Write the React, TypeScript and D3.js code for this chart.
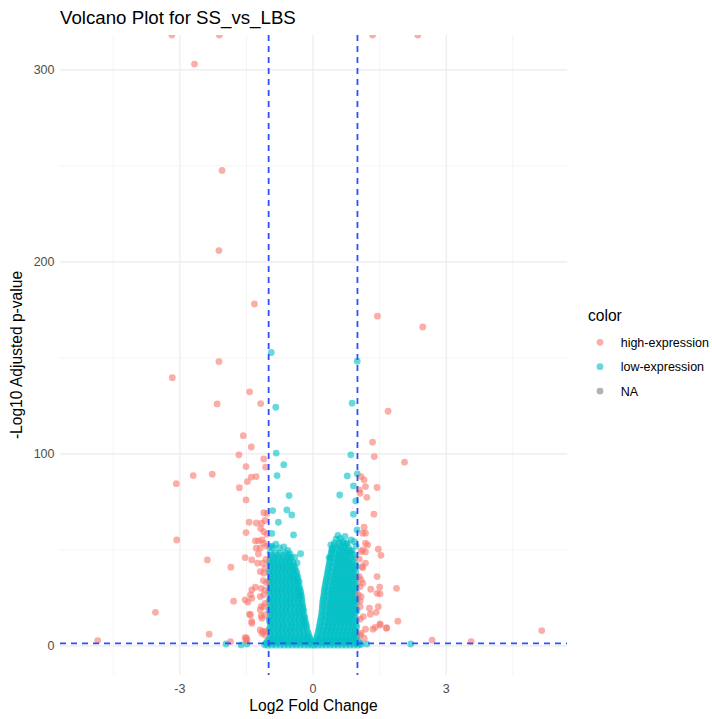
import React from 'react';
import * as d3 from 'd3';

type Pt = [number, number];
type Row = [number, number[]];

const title = 'Volcano Plot for SS_vs_LBS';
const xLabel = 'Log2 Fold Change';
const yLabel = '-Log10 Adjusted p-value';

// x limits include a row whose y is NA (trained by the scale, not drawn)
const xLimits = [-5.18, 5.2];
const yLimits = [0, 303];
const xTicks = [-3, 0, 3];
const xMinorTicks = [-4.5, -1.5, 1.5, 4.5];
const yTicks = [0, 100, 200, 300];
const yMinorTicks = [50, 150, 250];
const lfcCut = 1;
const padjCut = 0.05;

const legendTitle = 'color';
const legendKeys = ['high-expression', 'low-expression', 'NA'];
const legendColors = ['#F8766D', '#00BFC4', '#7F7F7F'];

// [log2FC, -log10 padj]; Infinity = padj of 0
const highExpr: Pt[] = [
  [-3.18, Infinity], [-2.11, Infinity], [1.34, Infinity], [2.36, Infinity],
  [-2.67, 303], [-2.05, 247.6], [-2.12, 205.9], [-1.32, 178.1], [1.45, 171.7], [2.47, 166.1],
  [-2.12, 148.1], [-3.17, 139.7], [-1.43, 132.3], [-2.16, 126], [-1.18, 126.2],
  [-1.57, 109.5], [-1.39, 103.6], [-1.67, 99.5], [-1.11, 97.4], [-1.51, 93.4], [-1.07, 93.1],
  [-2.7, 88.7], [-2.27, 89.4], [-1.39, 87.9], [-1.28, 88.2], [-1.48, 85.6],
  [-3.08, 84.5], [-1.66, 82.4], [-1.51, 76], [-1.04, 69], [-1.11, 69.4], [-1.08, 65.3],
  [-1.44, 64.4], [-1.28, 64], [-1.16, 63.9], [-1.51, 59], [-1.18, 61.1], [-1.11, 59.5], [-1.04, 58.2],
  [-3.07, 55.2], [-1.3, 54.7], [-1.23, 54.7], [-1.15, 55.2], [-1.11, 53.5], [-1.05, 52],
  [-1.28, 50.9], [-1.19, 50.9], [-1.23, 47.9], [-2.38, 44.8], [-1.53, 46], [-1.38, 44.8], [-1.06, 45],
  [-1.25, 43.1], [-1.13, 43.1], [-1.85, 41], [-1.08, 40.5], [-1.11, 37.9], [-1.19, 38.7],
  [-1.12, 34], [-1.05, 33], [-1.38, 29.2], [-1.3, 30.6], [-1.17, 30], [-1.08, 29.2],
  [-1.41, 26.6], [-1.19, 25.7], [-1.11, 26.6], [-1.53, 24], [-1.38, 24.8], [-1.79, 23.3],
  [-1.47, 22.8], [-1.17, 20.5], [-1.08, 22.2], [-1.11, 20.5], [-1.19, 18.8], [-3.55, 17.5],
  [-1.43, 16.5], [-1.41, 16.1], [-1.17, 15.6], [-1.08, 16.1], [-1.15, 14.4], [-1.38, 12.7], [-1.38, 11.8],
  [-1.19, 8.3], [-1.15, 6.6], [-1.08, 7.5], [-1.13, 7.5], [-1.08, 5.7], [-2.34, 6.1],
  [-1.5, 4.2], [-1.49, 3.1], [-1.53, 4.3], [-1.51, 2.8], [-1.86, 2.2], [-4.85, 2.8],
  [1.69, 122.2], [1.34, 106.1], [1.38, 98.6], [2.06, 95.7], [1.08, 88.2], [1.15, 86.5],
  [1.18, 83], [1.44, 82.5], [1.04, 81.2], [1.06, 79.5], [1.21, 77.4], [1.37, 68.6],
  [1.15, 61.8], [1.12, 58.7], [1.18, 58.7], [1.18, 53.5], [1.23, 52.6], [1.18, 49.1], [1.08, 49.1],
  [1.12, 50], [1.47, 50.4], [1.53, 47.2], [1.04, 45.2], [1.18, 43.1], [1.12, 40.8], [1.1, 41.3],
  [1.44, 36.1], [1.04, 36.1], [1.08, 34.4], [1.12, 32.7], [1.88, 30], [1.3, 29.5], [1.5, 30.6],
  [1.44, 27.4], [1.51, 27.1], [1.06, 30.9], [1.02, 26.6], [1.08, 25.7], [1.06, 23.4],
  [1.06, 20.5], [1.27, 19.6], [1.47, 20.5], [1.42, 17.5], [1.29, 16.5], [1.13, 15.3], [1.06, 13.9],
  [1.91, 12.9], [1.51, 11.5], [1.51, 10.9], [1.66, 9.5], [1.65, 9.2], [1.4, 9.7],
  [1.35, 8.7], [1.18, 8.7], [1.08, 6.6], [1.06, 5.7], [1.15, 4], [2.68, 3], [3.56, 2.2], [5.15, 8],
];

const lowSparse: Pt[] = [
  [-0.94, 152.8], [-0.84, 124.3], [-0.83, 100.4], [-0.66, 94.4], [-0.81, 88.7],
  [0.995, 148.3], [0.88, 126.4], [0.85, 99.5], [0.77, 88.5], [0.995, 89.6], [0.91, 83.3],
  [0.6, 78.6], [0.96, 75.5], [0.91, 68.6], [0.99, 60.4],
  [-0.54, 78.3], [-0.91, 70.5], [-0.59, 70.8], [-0.48, 68.2], [-0.78, 64.4], [-0.93, 58.6],
  [-0.44, 57.8], [-0.93, 52], [-0.28, 48], [-0.52, 48],
  [0.52, 55.6], [0.61, 56], [0.66, 54.3], [0.75, 53.1], [0.93, 54.3], [0.43, 50], [0.88, 49.5],
  [-0.97, 51.5], [-0.84, 53], [-0.66, 51.6], [-0.57, 49.8], [-0.41, 46.2], [-0.36, 43.2],
  [0.36, 46], [0.4, 52.6], [0.56, 57.5], [0.72, 57], [0.86, 55.2], [0.97, 52],
  [-1.96, 1], [-1.62, 0.5], [-1.49, 1], [1.21, 1], [2.2, 1], [-1.09, 0.6], [1.08, 0.7],
];

// dense core of the volcano, row by row: [-log10 padj, log2FC values]
const lowLeftRows: Row[] = [
  [0.4, [-1.02, -0.93, -0.84, -0.74, -0.65, -0.56, -0.47, -0.38, -0.29, -0.2, -0.11, -0.03]],
  [1.5, [-1.06, -0.97, -0.88, -0.79, -0.7, -0.61, -0.52, -0.43, -0.34, -0.25, -0.16, -0.07]],
  [2.5, [-1.03, -0.94, -0.85, -0.75, -0.66, -0.57, -0.47, -0.38, -0.29, -0.2, -0.11, -0.04]],
  [3.5, [-0.99, -0.9, -0.8, -0.71, -0.62, -0.52, -0.43, -0.34, -0.24, -0.15, -0.07]],
  [4.75, [-0.97, -0.88, -0.78, -0.69, -0.6, -0.5, -0.41, -0.31, -0.22, -0.13, -0.08]],
  [6, [-0.95, -0.85, -0.76, -0.66, -0.57, -0.48, -0.38, -0.29, -0.2, -0.1]],
  [7.25, [-0.97, -0.88, -0.78, -0.69, -0.6, -0.5, -0.41, -0.31, -0.22, -0.12]],
  [8.5, [-0.99, -0.9, -0.8, -0.71, -0.61, -0.52, -0.43, -0.33, -0.24, -0.14]],
  [9.75, [-0.97, -0.88, -0.78, -0.69, -0.59, -0.5, -0.41, -0.31, -0.22, -0.15]],
  [11, [-0.95, -0.86, -0.76, -0.67, -0.57, -0.48, -0.38, -0.29, -0.2, -0.15]],
  [12.25, [-0.97, -0.88, -0.78, -0.69, -0.6, -0.5, -0.41, -0.31, -0.22, -0.17]],
  [13.5, [-0.99, -0.9, -0.81, -0.71, -0.62, -0.52, -0.43, -0.34, -0.25, -0.18]],
  [14.75, [-0.97, -0.88, -0.78, -0.69, -0.6, -0.5, -0.41, -0.31, -0.22, -0.19]],
  [16, [-0.95, -0.86, -0.76, -0.67, -0.57, -0.48, -0.39, -0.29, -0.2]],
  [17.25, [-0.97, -0.88, -0.79, -0.69, -0.6, -0.51, -0.41, -0.32, -0.23]],
  [18.5, [-0.99, -0.9, -0.81, -0.71, -0.62, -0.53, -0.43, -0.34, -0.25, -0.21]],
  [19.75, [-0.97, -0.88, -0.79, -0.69, -0.6, -0.51, -0.41, -0.32, -0.23]],
  [21, [-0.95, -0.86, -0.76, -0.67, -0.58, -0.48, -0.39, -0.29, -0.23]],
  [22.25, [-0.97, -0.88, -0.79, -0.7, -0.6, -0.51, -0.42, -0.32, -0.25]],
  [23.5, [-0.99, -0.9, -0.81, -0.72, -0.62, -0.53, -0.44, -0.34, -0.25]],
  [24.75, [-0.97, -0.88, -0.79, -0.7, -0.6, -0.51, -0.42, -0.33, -0.26]],
  [26, [-0.95, -0.86, -0.77, -0.67, -0.58, -0.48, -0.39, -0.3, -0.26]],
  [27.25, [-0.97, -0.88, -0.79, -0.7, -0.61, -0.51, -0.42, -0.33, -0.28]],
  [28.5, [-0.99, -0.9, -0.81, -0.72, -0.62, -0.53, -0.44, -0.35, -0.28]],
  [29.75, [-0.97, -0.88, -0.79, -0.7, -0.61, -0.52, -0.43, -0.34, -0.3]],
  [31, [-0.95, -0.86, -0.77, -0.67, -0.58, -0.49, -0.4, -0.31]],
  [32.25, [-0.97, -0.88, -0.79, -0.7, -0.61, -0.52, -0.43, -0.34]],
  [33.5, [-0.99, -0.9, -0.81, -0.72, -0.63, -0.53, -0.44, -0.35, -0.31]],
  [34.75, [-0.97, -0.88, -0.79, -0.7, -0.61, -0.52, -0.43, -0.35]],
  [36, [-0.95, -0.86, -0.77, -0.68, -0.58, -0.49, -0.4, -0.34]],
  [37.25, [-0.97, -0.88, -0.79, -0.7, -0.61, -0.52, -0.43, -0.37]],
  [38.5, [-0.99, -0.9, -0.81, -0.72, -0.63, -0.54, -0.45, -0.37]],
  [39.75, [-0.97, -0.88, -0.79, -0.7, -0.61, -0.52, -0.44, -0.4]],
  [41, [-0.95, -0.86, -0.77, -0.68, -0.59, -0.5, -0.41]],
  [42.25, [-0.97, -0.88, -0.79, -0.7, -0.61, -0.52, -0.44]],
  [43.5, [-0.98, -0.89, -0.8, -0.71, -0.62, -0.53, -0.45]],
  [44.75, [-0.97, -0.88, -0.79, -0.7, -0.61, -0.52]],
  [46, [-0.96, -0.87, -0.77, -0.66, -0.57, -0.49]],
  [47.25, [-0.92, -0.8, -0.68, -0.55]],
  [48.5, [-0.97, -0.85, -0.74, -0.62]],
  [51, [-0.9, -0.76]],
];

const lowRightRows: Row[] = [
  [0.4, [0.03, 0.11, 0.2, 0.29, 0.38, 0.47, 0.56, 0.65, 0.74, 0.83, 0.92, 1.01]],
  [1.5, [0.07, 0.16, 0.25, 0.34, 0.43, 0.52, 0.61, 0.7, 0.79, 0.88, 0.97, 1.06]],
  [2.5, [0.05, 0.12, 0.21, 0.3, 0.39, 0.48, 0.57, 0.66, 0.75, 0.84, 0.93, 1.02]],
  [3.5, [0.07, 0.16, 0.25, 0.34, 0.43, 0.52, 0.61, 0.7, 0.79, 0.88, 0.97]],
  [4.75, [0.09, 0.2, 0.29, 0.38, 0.47, 0.56, 0.65, 0.74, 0.83, 0.92, 0.98]],
  [6, [0.1, 0.2, 0.29, 0.38, 0.47, 0.56, 0.65, 0.74, 0.83, 0.92, 0.99]],
  [7.25, [0.12, 0.24, 0.33, 0.42, 0.51, 0.6, 0.69, 0.78, 0.87, 0.96]],
  [8.5, [0.13, 0.22, 0.31, 0.4, 0.49, 0.58, 0.67, 0.76, 0.85, 0.94]],
  [9.75, [0.14, 0.26, 0.35, 0.44, 0.53, 0.62, 0.71, 0.8, 0.89, 0.98]],
  [11, [0.15, 0.25, 0.34, 0.43, 0.52, 0.61, 0.7, 0.79, 0.88, 0.97]],
  [12.25, [0.16, 0.29, 0.38, 0.47, 0.56, 0.65, 0.74, 0.83, 0.92]],
  [13.5, [0.17, 0.26, 0.35, 0.44, 0.53, 0.62, 0.71, 0.8, 0.89, 0.98]],
  [14.75, [0.18, 0.31, 0.4, 0.49, 0.58, 0.67, 0.76, 0.85, 0.94]],
  [16, [0.19, 0.28, 0.37, 0.46, 0.55, 0.64, 0.73, 0.82, 0.91]],
  [17.25, [0.2, 0.33, 0.42, 0.51, 0.6, 0.69, 0.78, 0.87, 0.96]],
  [18.5, [0.2, 0.29, 0.38, 0.47, 0.56, 0.65, 0.74, 0.83, 0.92, 0.99]],
  [19.75, [0.21, 0.34, 0.43, 0.52, 0.61, 0.7, 0.79, 0.88, 0.97]],
  [21, [0.21, 0.3, 0.39, 0.48, 0.57, 0.66, 0.75, 0.84, 0.93]],
  [22.25, [0.22, 0.35, 0.44, 0.53, 0.62, 0.71, 0.8, 0.89, 0.97]],
  [23.5, [0.22, 0.31, 0.4, 0.49, 0.58, 0.67, 0.76, 0.85, 0.94, 0.99]],
  [24.75, [0.23, 0.37, 0.46, 0.55, 0.64, 0.73, 0.82, 0.91, 0.98]],
  [26, [0.24, 0.33, 0.42, 0.51, 0.6, 0.69, 0.78, 0.87, 0.96]],
  [27.25, [0.25, 0.38, 0.47, 0.56, 0.65, 0.74, 0.83, 0.92]],
  [28.5, [0.25, 0.34, 0.43, 0.52, 0.61, 0.7, 0.79, 0.88, 0.97]],
  [29.75, [0.26, 0.4, 0.49, 0.58, 0.67, 0.76, 0.85, 0.94]],
  [31, [0.27, 0.36, 0.45, 0.54, 0.63, 0.72, 0.81, 0.9, 0.98]],
  [32.25, [0.28, 0.42, 0.51, 0.6, 0.69, 0.78, 0.87, 0.96]],
  [33.5, [0.29, 0.38, 0.47, 0.56, 0.65, 0.74, 0.83, 0.92]],
  [34.75, [0.3, 0.44, 0.53, 0.62, 0.71, 0.8, 0.89, 0.97]],
  [36, [0.31, 0.4, 0.49, 0.58, 0.67, 0.76, 0.85, 0.94, 0.99]],
  [37.25, [0.32, 0.46, 0.55, 0.64, 0.73, 0.82, 0.91]],
  [38.5, [0.33, 0.42, 0.51, 0.6, 0.69, 0.78, 0.87, 0.96]],
  [39.75, [0.34, 0.48, 0.57, 0.66, 0.75, 0.84, 0.93]],
  [41, [0.35, 0.44, 0.53, 0.62, 0.71, 0.8, 0.89, 0.97]],
  [42.25, [0.36, 0.5, 0.59, 0.68, 0.77, 0.86, 0.96]],
  [43.5, [0.37, 0.46, 0.55, 0.64, 0.73, 0.82, 0.91]],
  [44.75, [0.38, 0.52, 0.61, 0.7, 0.79, 0.88]],
  [46, [0.39, 0.48, 0.57, 0.66, 0.75, 0.84, 0.95]],
  [47.25, [0.4, 0.54, 0.63, 0.72, 0.81, 0.93]],
  [48.5, [0.41, 0.5, 0.59, 0.68, 0.77, 0.86]],
  [49.75, [0.42, 0.57, 0.66, 0.75, 0.84]],
  [51, [0.44, 0.53, 0.62, 0.71, 0.8]],
  [52.25, [0.47, 0.6, 0.72]],
  [53.5, [0.48, 0.58, 0.68, 0.77]],
];

const FONT = '"Liberation Sans", Arial, Helvetica, sans-serif';

const rowsToPts = (rows: Row[]): Pt[] => rows.flatMap(([v, xs]) => xs.map((lfc) => [lfc, v] as Pt));

export default function App() {
  const W = 712;
  const H = 719;
  const panel = { left: 60, right: 567, top: 35, bottom: 675 };

  const xPad = (xLimits[1] - xLimits[0]) * 0.05;
  const yPad = (yLimits[1] - yLimits[0]) * 0.05;
  const x = d3.scaleLinear().domain([xLimits[0] - xPad, xLimits[1] + xPad]).range([panel.left, panel.right]);
  const y = d3.scaleLinear().domain([yLimits[0] - yPad, yLimits[1] + yPad]).range([panel.bottom, panel.top]);
  const py = (v: number) => (Number.isFinite(v) ? y(v) : panel.top);

  const lowPts = [...rowsToPts(lowLeftRows), ...rowsToPts(lowRightRows), ...lowSparse];
  const r = 3.4;
  const alpha = 0.6;
  const dashColor = '#2f50ff';

  return (
    <svg width={W} height={H} style={{ position: 'absolute', left: 0, top: 0, background: '#fff' }} fontFamily={FONT}>
      <defs>
        <clipPath id="panel-clip">
          <rect x={panel.left} y={panel.top} width={panel.right - panel.left} height={panel.bottom - panel.top} />
        </clipPath>
      </defs>

      <text x={panel.left} y={24} fontSize={18.7} fill="#000">{title}</text>

      {/* grid */}
      <g stroke="#EBEBEB" fill="none">
        {yMinorTicks.map((t) => (
          <line key={'ym' + t} x1={panel.left} x2={panel.right} y1={y(t)} y2={y(t)} strokeWidth={0.55} />
        ))}
        {xMinorTicks.map((t) => (
          <line key={'xm' + t} x1={x(t)} x2={x(t)} y1={panel.top} y2={panel.bottom} strokeWidth={0.55} />
        ))}
        {yTicks.map((t) => (
          <line key={'y' + t} x1={panel.left} x2={panel.right} y1={y(t)} y2={y(t)} strokeWidth={1.1} />
        ))}
        {xTicks.map((t) => (
          <line key={'x' + t} x1={x(t)} x2={x(t)} y1={panel.top} y2={panel.bottom} strokeWidth={1.1} />
        ))}
      </g>

      {/* points */}
      <g clipPath="url(#panel-clip)">
        {lowPts.map(([lfc, v], i) => (
          <circle key={'l' + i} cx={x(lfc)} cy={py(v)} r={r} fill={legendColors[1]} fillOpacity={alpha} />
        ))}
        {highExpr.map(([lfc, v], i) => (
          <circle key={'h' + i} cx={x(lfc)} cy={py(v)} r={r} fill={legendColors[0]} fillOpacity={alpha} />
        ))}
      </g>

      {/* thresholds */}
      <g stroke={dashColor} strokeWidth={1.8} strokeDasharray="6 5" clipPath="url(#panel-clip)">
        {[-lfcCut, lfcCut].map((c) => (
          <line key={'v' + c} x1={x(c)} x2={x(c)} y1={panel.top} y2={panel.bottom} />
        ))}
        <line x1={panel.left} x2={panel.right} y1={y(-Math.log10(padjCut))} y2={y(-Math.log10(padjCut))} />
      </g>

      {/* axes text */}
      <g fontSize={12.5} fill="#4D4D4D">
        {yTicks.map((t) => (
          <text key={'yt' + t} x={panel.left - 5.5} y={y(t)} dy="0.36em" textAnchor="end">{t}</text>
        ))}
        {xTicks.map((t) => (
          <text key={'xt' + t} x={x(t)} y={692.5} textAnchor="middle">{t}</text>
        ))}
      </g>
      <text x={(panel.left + panel.right) / 2} y={710.5} textAnchor="middle" fontSize={15.6} fill="#000">{xLabel}</text>
      <text transform={`translate(22,${(panel.top + panel.bottom) / 2}) rotate(-90)`} textAnchor="middle" fontSize={15.6} fill="#000">{yLabel}</text>

      {/* legend */}
      <g>
        <text x={588} y={320.5} fontSize={15.6} fill="#000">{legendTitle}</text>
        {legendKeys.map((k, i) => (
          <g key={k} transform={`translate(0,${342.3 + i * 24.4})`}>
            <circle cx={600} cy={0} r={r} fill={legendColors[i]} fillOpacity={alpha} />
            <text x={620.7} y={0} dy="0.36em" fontSize={12.5} fill="#000">{k}</text>
          </g>
        ))}
      </g>
    </svg>
  );
}
